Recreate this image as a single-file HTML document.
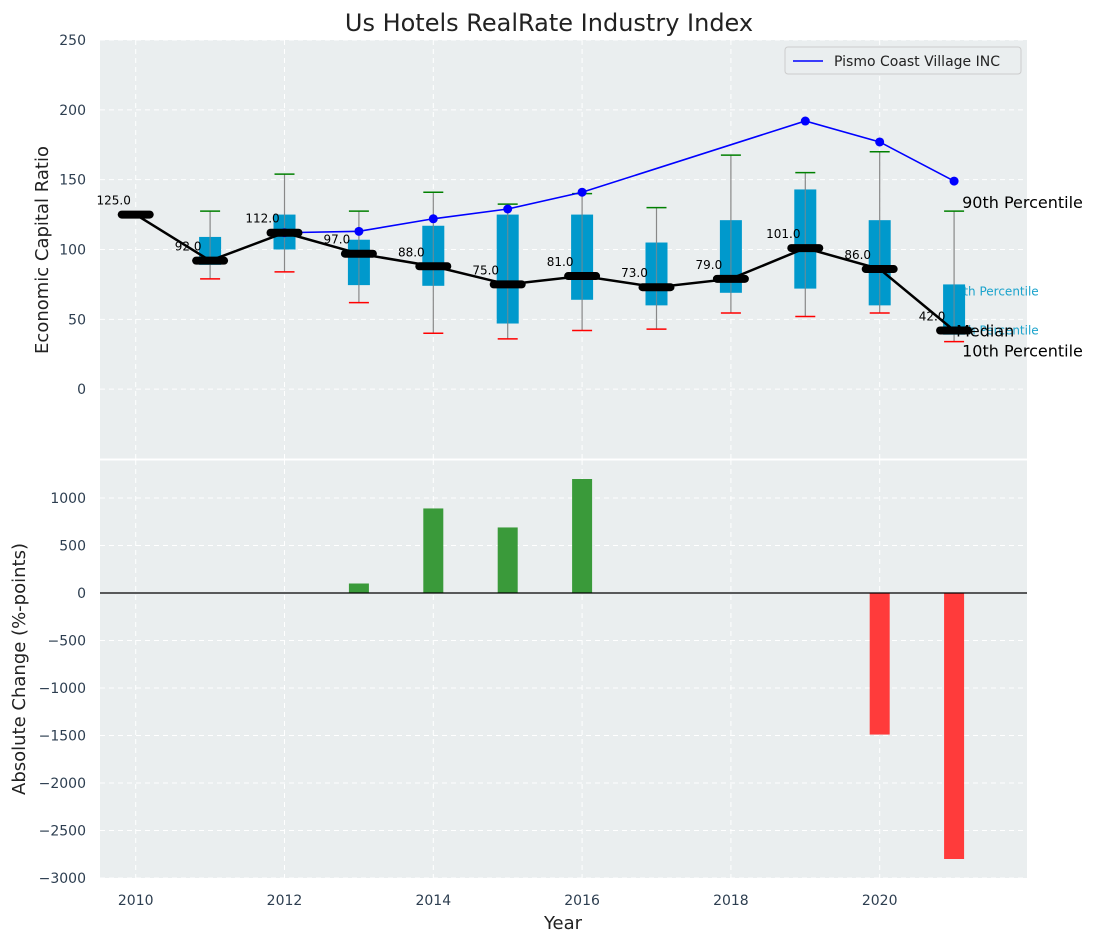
<!DOCTYPE html>
<html><head><meta charset="utf-8"><style>
body{margin:0;background:#fff;}
svg{display:block;font-family:"DejaVu Sans","Liberation Sans",sans-serif;}
</style></head><body>
<svg id="c" width="1098" height="942" xmlns="http://www.w3.org/2000/svg"></svg>
<script>
const years=[2010,2011,2012,2013,2014,2015,2016,2017,2018,2019,2020,2021];
const medians=[125,92,112,97,88,75,81,73,79,101,86,42];
const q75=[null,109,125,107,117,125,125,105,121,143,121,75];
const q25=[null,89,100,74.5,74,47,64,60,69,72,60,39];
const p90=[null,127.5,154,127.5,141,132.5,140,130,167.6,155,170,127.5];
const p10=[null,79,84,62,40,36,42,43,54.5,52,54.5,34];
const compYears=[2012,2013,2014,2015,2016,2019,2020,2021];
const compValues=[112,113,122,129,141,192,177,149];
const changeYears=[2013,2014,2015,2016,2020,2021];
const changeValues=[100,890,690,1200,-1490,-2800];
const xTicks=[2010,2012,2014,2016,2018,2020];
const yTopTicks=[0,50,100,150,200,250];
const yBotTicks=[-3000,-2500,-2000,-1500,-1000,-500,0,500,1000];

const NS="http://www.w3.org/2000/svg";
const svg=document.getElementById('c');
function el(t,a,p){const e=document.createElementNS(NS,t);for(const k in a)e.setAttribute(k,a[k]);(p||svg).appendChild(e);return e;}
const X0=100,X1=1027;
const x=v=>X0+(v-2009.52)/(2021.98-2009.52)*(X1-X0);
const T0=40,T1=459,B0=460,B1=878;
const yT=v=>T0+(250-v)/300*(T1-T0);
const yB=v=>B0+(1400-v)/4400*(B1-B0);
const tick="#2d3e50";

let t=el('text',{x:549,y:31,'text-anchor':'middle','font-size':24,fill:'#222'});t.textContent='Us Hotels RealRate Industry Index';


let bg=el('rect',{x:X0,y:T0,width:X1-X0,height:T1-T0,fill:'#eaeeef'});

let bg2=el('rect',{x:X0,y:B0,width:X1-X0,height:B1-B0,fill:'#eaeeef'});


xTicks.forEach(v=>{
  [[T0,T1],[B0,B1]].forEach(r=>{const g=el('line',{x1:x(v),x2:x(v),y1:r[0],y2:r[1],stroke:'#fff','stroke-dasharray':'5,4','stroke-width':1});
  });
  const l=el('text',{x:x(v),y:905,'text-anchor':'middle','font-size':14,fill:tick});l.textContent=v;
  
});
yTopTicks.forEach(v=>{
  const g=el('line',{x1:X0,x2:X1,y1:yT(v),y2:yT(v),stroke:'#fff','stroke-dasharray':'5,4','stroke-width':1});
  
  const l=el('text',{x:86,y:yT(v)+5,'text-anchor':'end','font-size':14,fill:tick});l.textContent=v;
  
});
yBotTicks.forEach(v=>{
  const g=el('line',{x1:X0,x2:X1,y1:yB(v),y2:yB(v),stroke:'#fff','stroke-dasharray':'5,4','stroke-width':1});
  
  const l=el('text',{x:86,y:yB(v)+5,'text-anchor':'end','font-size':14,fill:tick});l.textContent=(v<0?'\u2212'+(-v):v);
  
});
el('rect',{x:X0,y:B0-1.5,width:X1-X0,height:2,fill:'#fff'});

const last=years.length-1, lx=x(years[last]);
// small cyan labels (drawn under boxes)
[['75th Percentile',q75[last],11],['25th Percentile',q25[last],0]].forEach(a=>{
  const l=el('text',{x:lx-6,y:yT(a[1])+a[2],'font-size':12,fill:'#1aa3cc'});l.textContent=a[0];
  
});

years.forEach((yr,i)=>{
  if(q75[i]==null)return;
  const cx=x(yr);
  const w=el('line',{x1:cx,x2:cx,y1:yT(p90[i]),y2:yT(p10[i]),stroke:'#888','stroke-width':1.2});
  
  const b=el('rect',{x:cx-11,y:yT(q75[i]),width:22,height:yT(q25[i])-yT(q75[i]),fill:'#0099cc'});
  
  el('line',{x1:cx,x2:cx,y1:yT(q75[i]),y2:yT(q25[i]),stroke:'#888','stroke-width':1.2,opacity:0.7});
  const g=el('line',{x1:cx-10,x2:cx+10,y1:yT(p90[i]),y2:yT(p90[i]),stroke:'green','stroke-width':1.5});
  
  const r=el('line',{x1:cx-10,x2:cx+10,y1:yT(p10[i]),y2:yT(p10[i]),stroke:'red','stroke-width':1.5});
  
});

let pts=compYears.map((yr,i)=>x(yr)+','+yT(compValues[i])).join(' ');
let cl=el('polyline',{points:pts,fill:'none',stroke:'blue','stroke-width':1.6});

compYears.forEach((yr,i)=>{const c=el('circle',{cx:x(yr),cy:yT(compValues[i]),r:4.5,fill:'blue'});
  });

let mp=years.map((yr,i)=>x(yr)+','+yT(medians[i])).join(' ');
let ml=el('polyline',{points:mp,fill:'none',stroke:'#000','stroke-width':2.5});

years.forEach((yr,i)=>{
  const m=el('line',{x1:x(yr)-14,x2:x(yr)+14,y1:yT(medians[i]),y2:yT(medians[i]),stroke:'#000','stroke-width':8,'stroke-linecap':'round'});
  
  const l=el('text',{x:x(yr)-22,y:yT(medians[i])-10,'text-anchor':'middle','font-size':12,fill:'#000'});l.textContent=medians[i].toFixed(1);
  
});

[['90th Percentile',p90[last],-3,8],['Median',medians[last],6,2],['10th Percentile',p10[last],15,8]].forEach(a=>{
  const l=el('text',{x:lx+a[3],y:yT(a[1])+a[2],'font-size':16,fill:'#000'});l.textContent=a[0];
  
});

let lg=el('g',{});
el('rect',{x:785,y:47,width:236,height:27,rx:3,fill:'#eaeeef',stroke:'#ccc'},lg);
el('line',{x1:793,x2:823,y1:61,y2:61,stroke:'blue','stroke-width':1.6},lg);
let lt=el('text',{x:834,y:66,'font-size':14,fill:'#222'},lg);lt.textContent='Pismo Coast Village INC';

changeYears.forEach((yr,i)=>{
  const v=changeValues[i];
  const b=el('rect',{x:x(yr)-10,y:Math.min(yB(v),yB(0)),width:20,height:Math.abs(yB(v)-yB(0)),fill:v>=0?'#3a9a3a':'#ff3b3b'});
  
});
let zl=el('line',{x1:X0,x2:X1,y1:yB(0),y2:yB(0),stroke:'#000','stroke-width':1.2});


let a1=el('text',{x:48,y:250,'text-anchor':'middle','font-size':18,fill:'#222',transform:'rotate(-90 48 250)'});a1.textContent='Economic Capital Ratio';

let a2=el('text',{x:25,y:669,'text-anchor':'middle','font-size':18,fill:'#222',transform:'rotate(-90 25 669)'});a2.textContent='Absolute Change (%-points)';

let a3=el('text',{x:563,y:929,'text-anchor':'middle','font-size':18,fill:'#222'});a3.textContent='Year';

</script>
</body></html>
